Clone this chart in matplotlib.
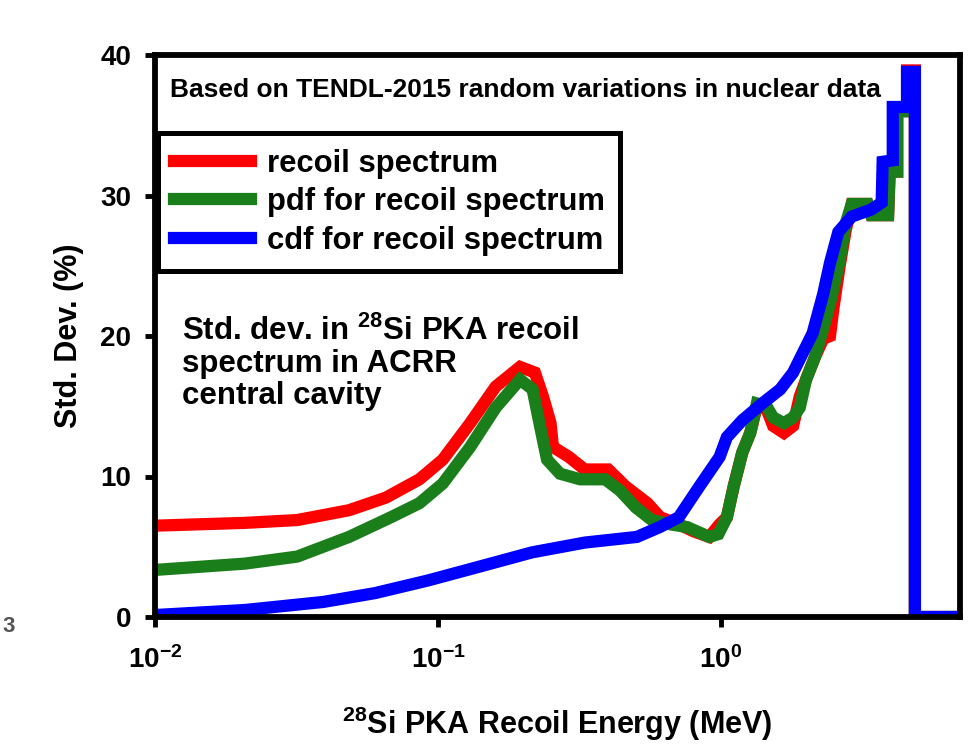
import matplotlib
matplotlib.use("Agg")
import matplotlib.pyplot as plt
from matplotlib.ticker import FixedLocator, NullLocator, LogFormatterSciNotation

plt.rcParams['font.family'] = ['Liberation Sans', 'DejaVu Sans']
plt.rcParams['font.weight'] = 'bold'
plt.rcParams['mathtext.fontset'] = 'custom'
plt.rcParams['mathtext.rm'] = 'Liberation Sans:bold'
plt.rcParams['mathtext.it'] = 'Liberation Sans:bold'
plt.rcParams['mathtext.bf'] = 'Liberation Sans:bold'

# ---- data (energy in MeV, std. dev. in %) ----
recoil_E = [0.01, 0.0208, 0.0318, 0.0485, 0.0655, 0.086, 0.104, 0.13, 0.16, 0.195,
            0.22, 0.235, 0.25, 0.255, 0.29, 0.33, 0.40, 0.46, 0.55, 0.61, 0.71, 0.80,
            0.91, 0.99, 1.05, 1.11, 1.19, 1.27, 1.34, 1.45, 1.53, 1.67, 1.80, 1.9, 2.0,
            2.15, 2.3, 2.43, 2.5, 2.63, 2.76, 2.9, 3.3, 3.4, 3.9, 3.95, 4.2, 4.2, 4.55,
            4.55, 4.85, 4.85, 7.0]
recoil_sd = [6.5, 6.7, 6.9, 7.6, 8.5, 9.8, 11.2, 13.8, 16.4, 17.8,
             17.4, 15.7, 13.8, 12.1, 11.4, 10.5, 10.5, 9.3, 8.1, 7.1, 6.6, 6.1,
             5.7, 6.6, 7.1, 9.3, 11.7, 13.1, 15.0, 14.8, 13.6, 13.1, 13.6, 15.7, 16.9,
             18.5, 19.8, 20.0, 22.0, 25.0, 27.5, 29.4, 29.4, 28.6, 28.6, 31.7, 31.7, 36.0, 36.0,
             38.9, 38.9, 0.0, 0.0]

pdf_E = [0.01, 0.0208, 0.0318, 0.0485, 0.0682, 0.086, 0.104, 0.13, 0.16, 0.195,
         0.216, 0.23, 0.243, 0.27, 0.318, 0.39, 0.44, 0.50, 0.57, 0.66, 0.76, 0.91,
         0.98, 1.05, 1.11, 1.19, 1.27, 1.34, 1.45, 1.53, 1.67, 1.8, 1.9, 2.0, 2.15,
         2.3, 2.45, 2.63, 2.76, 2.9, 3.3, 3.4, 3.9, 3.95, 4.2, 4.2, 4.55, 4.55, 4.85,
         4.85, 7.0]
pdf_sd = [3.35, 3.8, 4.3, 5.7, 7.1, 8.1, 9.5, 12.1, 14.9, 16.9,
          16.2, 13.5, 11.2, 10.2, 9.8, 9.8, 9.0, 7.8, 6.9, 6.6, 6.4, 5.7,
          5.9, 7.1, 9.3, 11.7, 13.1, 15.2, 15.0, 14.2, 13.8, 14.2, 14.9, 16.9, 18.5,
          20.5, 22.6, 25.4, 28.0, 29.4, 29.4, 28.6, 28.6, 31.7, 31.7, 36.0, 36.0, 38.6, 38.6,
          0.0, 0.0]

cdf_E = [0.01, 0.0208, 0.0393, 0.0599, 0.0922, 0.141, 0.215, 0.331, 0.505, 0.608,
         0.71, 0.84, 0.99, 1.05, 1.19, 1.4, 1.62, 1.8, 2.11, 2.3, 2.43, 2.6, 2.9,
         3.4, 3.7, 3.73, 4.05, 4.05, 4.55, 4.55, 4.85, 4.85, 7.0]
cdf_sd = [0.14, 0.5, 1.07, 1.7, 2.6, 3.6, 4.6, 5.3, 5.7, 6.4,
          7.1, 9.3, 11.4, 12.8, 14.0, 15.2, 16.2, 17.4, 20.2, 23.0, 25.2, 27.4, 28.5,
          29.0, 29.5, 32.4, 32.5, 36.3, 36.3, 38.8, 38.8, 0.0, 0.0]

labels = ['recoil spectrum', 'pdf for recoil spectrum', 'cdf for recoil spectrum']
colors = ['#ff0000', '#1a7f1a', '#0000ff']
x_ticks = [0.01, 0.1, 1.0]
y_ticks = [0, 10, 20, 30, 40]

fig = plt.figure(figsize=(9.68, 7.52), dpi=100)
ax = fig.add_axes([155/968, 1-617/752, 805/968, 562/752])

lw = 8.8
ax.plot(recoil_E, recoil_sd, color=colors[0], lw=lw, label=labels[0], solid_joinstyle='miter')
ax.plot(pdf_E, pdf_sd, color=colors[1], lw=lw, label=labels[1], solid_joinstyle='miter')
ax.plot(cdf_E, cdf_sd, color=colors[2], lw=lw, label=labels[2], solid_joinstyle='miter')

ax.set_xscale('log')
ax.set_xlim(0.01, 7.0)
ax.set_ylim(0, 40)
ax.xaxis.set_major_locator(FixedLocator(x_ticks))
ax.xaxis.set_major_formatter(LogFormatterSciNotation())
ax.xaxis.set_minor_locator(NullLocator())
ax.yaxis.set_major_locator(FixedLocator(y_ticks))

for s in ax.spines.values():
    s.set_linewidth(4.2)
    s.set_color('black')
ax.tick_params(axis='both', which='major', direction='out', length=7, width=3.5,
               labelsize=20)
ax.tick_params(axis='x', pad=14)
ax.tick_params(axis='y', pad=10)
for lab in ax.get_xticklabels() + ax.get_yticklabels():
    lab.set_fontweight('bold')

ax.set_xlabel(r'$^{28}$Si PKA Recoil Energy (MeV)', fontsize=22, fontweight='bold', labelpad=22)
ax.set_ylabel('Std. Dev. (%)', fontsize=22, fontweight='bold', labelpad=12)

leg = ax.legend(loc='upper left', bbox_to_anchor=(0.004, 0.861), borderaxespad=0,
                fontsize=22.3, handlelength=2.5, handletextpad=0.5, labelspacing=0.28,
                borderpad=0.5, fancybox=False, framealpha=1, edgecolor='black')
leg.get_frame().set_linewidth(3.6)
for t in leg.get_texts():
    t.set_fontweight('bold')

ax.text(0.019, 0.938, 'Based on TENDL-2015 random variations in nuclear data',
        transform=ax.transAxes, fontsize=19, fontweight='bold', va='center', ha='left')
ax.text(0.0335, 0.537, 'Std. dev. in $^{28}$Si PKA recoil\nspectrum in ACRR\ncentral cavity',
        transform=ax.transAxes, fontsize=22.5, fontweight='bold', va='top', ha='left',
        linespacing=1.1)

fig.text(0.009, 1-626/752, '3', fontsize=16, color='#555555', ha='center', va='center')

fig.savefig('out.png', dpi=100)
